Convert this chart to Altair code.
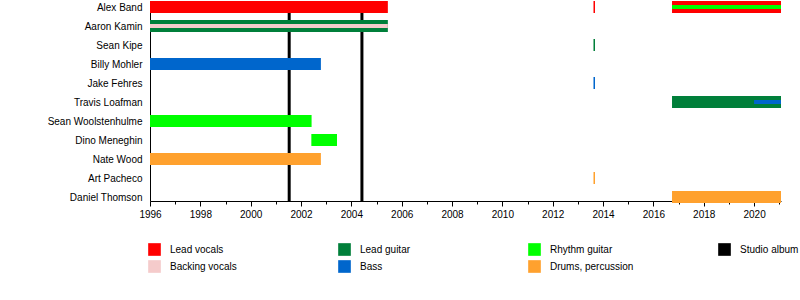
import json
import altair as alt
import pandas as pd

FONT = "Liberation Sans"

# Members (top to bottom)
members = ["Alex Band", "Aaron Kamin", "Sean Kipe", "Billy Mohler", "Jake Fehres",
           "Travis Loafman", "Sean Woolstenhulme", "Dino Meneghin", "Nate Wood",
           "Art Pacheco", "Daniel Thomson"]

# Roles and colours
roles = ["Lead vocals", "Backing vocals", "Lead guitar", "Bass",
         "Rhythm guitar", "Drums, percussion", "Studio album"]
role_colors = ["#FF0000", "#F5CBCB", "#007F3A", "#0066CC",
               "#00FF00", "#FFA12E", "#000000"]

# Main bars
bar_member = ["Alex Band", "Alex Band", "Alex Band", "Aaron Kamin", "Sean Kipe",
              "Billy Mohler", "Jake Fehres", "Travis Loafman", "Sean Woolstenhulme",
              "Dino Meneghin", "Nate Wood", "Art Pacheco", "Daniel Thomson"]
bar_role = ["Lead vocals", "Lead vocals", "Lead vocals", "Lead guitar", "Lead guitar",
            "Bass", "Bass", "Lead guitar", "Rhythm guitar",
            "Rhythm guitar", "Drums, percussion", "Drums, percussion", "Drums, percussion"]
bar_start = [1996.0, 2013.62, 2016.74, 1996.0, 2013.62,
             1996.0, 2013.62, 2016.74, 1996.0,
             2002.41, 1996.0, 2013.62, 2016.74]
bar_end = [2005.45, 2013.68, 2021.07, 2005.45, 2013.68,
           2002.79, 2013.68, 2021.07, 2002.42,
           2003.43, 2002.79, 2013.68, 2021.07]

# Secondary-role stripes
stripe_member = ["Alex Band", "Aaron Kamin", "Travis Loafman"]
stripe_role = ["Rhythm guitar", "Backing vocals", "Bass"]
stripe_start = [2016.74, 1996.0, 2020.0]
stripe_end = [2021.07, 2005.45, 2021.07]

# Studio albums
album_years = [2001.53, 2004.42]

# Axis
x_domain = [1996, 2021.07]
year_ticks = list(range(1996, 2022))

# Legend layout (column-major like the reference)
legend_col = [0, 0, 1, 1, 2, 2, 3]
legend_row = [0, 1, 0, 1, 0, 1, 0]

bars = pd.DataFrame({"member": bar_member, "role": bar_role,
                     "start": bar_start, "end": bar_end})
bars["row"] = [members.index(m) for m in bars["member"]]
stripes = pd.DataFrame({"member": stripe_member, "role": stripe_role,
                        "start": stripe_start, "end": stripe_end})
stripes["row"] = [members.index(m) for m in stripes["member"]]
albums = pd.DataFrame({"year": album_years})
legend_df = pd.DataFrame({"label": roles, "col": legend_col, "row": legend_row})

color_scale = alt.Scale(domain=roles, range=role_colors)
x_scale = alt.Scale(domain=x_domain, nice=False, zero=False, padding=0)
y_scale = alt.Scale(domain=[10 + 4 / 19, -6 / 19], nice=False, zero=False, padding=0)

x_axis = alt.Axis(
    values=year_ticks, format="d", title=None, grid=False,
    labelExpr="datum.value % 2 === 0 ? datum.label : ''",
    tickSize={"condition": {"test": "datum.value % 2 === 0", "value": 5}, "value": 3},
    tickColor="black", domainColor="black", labelColor="black",
    labelFont=FONT, labelFontSize=10, labelPadding=3,
    labelFlush=False, labelOverlap=False,
)
y_axis = alt.Axis(
    values=list(range(len(members))), title=None, grid=False, ticks=False,
    labelExpr=json.dumps(members) + "[datum.value]",
    domainColor="black", labelColor="black", labelFont=FONT, labelFontSize=10,
    labelPadding=8,
)

rules = alt.Chart(albums).mark_rule(color="black", strokeWidth=3, clip=True).encode(
    x=alt.X("year:Q", scale=x_scale, axis=x_axis),
)
main_bars = alt.Chart(bars).mark_bar(orient="horizontal", size=12).encode(
    x=alt.X("start:Q", scale=x_scale, axis=x_axis),
    x2="end:Q",
    y=alt.Y("row:Q", scale=y_scale, axis=y_axis),
    color=alt.Color("role:N", scale=color_scale, legend=None),
)
stripe_bars = alt.Chart(stripes).mark_bar(orient="horizontal", size=4).encode(
    x=alt.X("start:Q", scale=x_scale, axis=x_axis),
    x2="end:Q",
    y=alt.Y("row:Q", scale=y_scale, axis=y_axis),
    color=alt.Color("role:N", scale=color_scale, legend=None),
)
top = alt.layer(rules, main_bars, stripe_bars).properties(width=631, height=200)

lx = alt.Scale(domain=[0, 3], nice=False, zero=False)
ly = alt.Scale(domain=[1.5, -0.5], nice=False, zero=False)
swatches = alt.Chart(legend_df).mark_square(size=160, opacity=1, xOffset=4.5).encode(
    x=alt.X("col:Q", scale=lx, axis=None),
    y=alt.Y("row:Q", scale=ly, axis=None),
    color=alt.Color("label:N", scale=color_scale, legend=None),
)
labels = alt.Chart(legend_df).mark_text(
    align="left", baseline="middle", xOffset=20, font=FONT, fontSize=10, color="black"
).encode(
    x=alt.X("col:Q", scale=lx, axis=None),
    y=alt.Y("row:Q", scale=ly, axis=None),
    text="label:N",
)
legend = alt.layer(swatches, labels).properties(width=570, height=34)

chart = alt.vconcat(top, legend, spacing=22).properties(
    padding={"left": 47, "top": 0, "right": 0, "bottom": 0},
    background="white",
).configure_view(stroke=None)

chart.save("out.html", embed_options={"renderer": "svg", "actions": False})
